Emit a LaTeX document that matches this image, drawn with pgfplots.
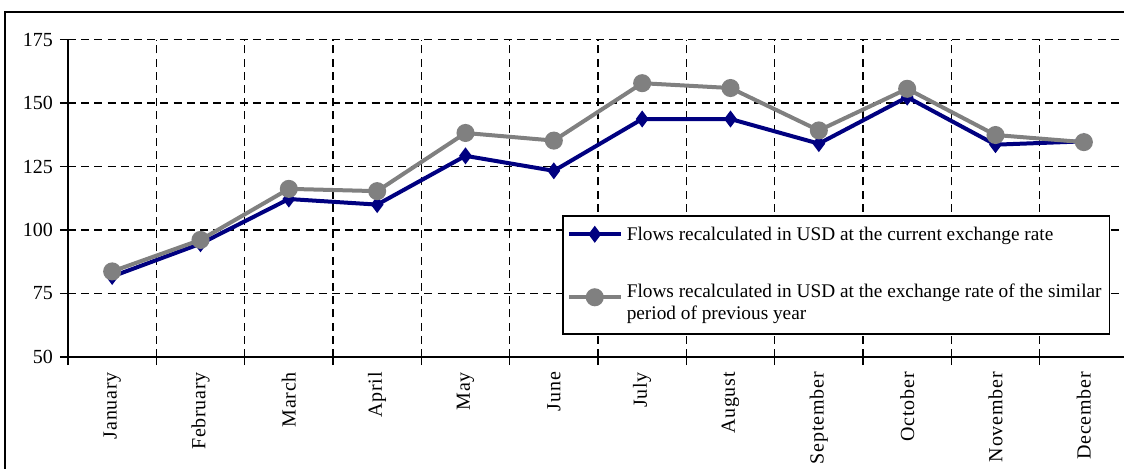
\documentclass[border=0pt]{standalone}
\usepackage{pgfplots}
\pgfplotsset{compat=1.18}
\usepackage{fontspec}
\setmainfont{Liberation Serif}
\newfontfamily\spaced[LetterSpace=4]{Liberation Serif}
\definecolor{navyblue}{RGB}{0,0,128}
\definecolor{midgray}{RGB}{128,128,128}
\pgfplotsset{
  normal legend/.style={legend image code/.code={\draw[mark repeat=2, mark phase=2, ##1] plot coordinates {(0pt,0.3em) (13pt,0.3em) (26pt,0.3em)};}},
  shifted legend/.style={legend image code/.code={\draw[mark repeat=2, mark phase=2, ##1] plot coordinates {(0pt,11.3pt) (13pt,11.3pt) (26pt,11.3pt)};}},
}
\begin{document}
\begin{tikzpicture}
\clip (-34pt,-55.5pt) rectangle (528pt,178.5pt);
\draw[line width=1pt] (-31.5pt,-70pt) -- (-31.5pt,172.5pt) -- (560pt,172.5pt);
\begin{axis}[
  at={(0pt,0pt)}, anchor=south west,
  scale only axis, width=530pt, height=158.75pt,
  xmin=0, xmax=12, ymin=50, ymax=175,
  ytick={50,75,...,175},
  xtick={0,...,12},
  x tick label as interval,
  xticklabels={January,February,March,April,May,June,July,August,September,October,November,December},
  xticklabel style={rotate=90, anchor=east, font=\spaced\fontsize{10}{12}\selectfont},
  yticklabel style={font=\fontsize{10}{12}\selectfont},
  /pgf/number format/assume math mode=true,
  grid=major,
  major grid style={black, line width=0.75pt, dash pattern=on 4pt off 2.6pt},
  axis lines=left,
  axis line style={-, line width=0.9pt},
  tick align=outside,
  major tick length=4pt,
  tick style={black, line width=0.75pt},
  legend style={at={(0.466,0.447)}, anchor=north west, draw=black, line width=0.8pt, fill=white,
    font=\fontsize{9.65}{11}\selectfont, row sep=16.5pt, inner xsep=2pt, inner ysep=3.5pt,
    column sep=0pt,
    cells={anchor=base west, align=left, inner xsep=1pt}},
  normal legend,
]
\addplot[navyblue, line width=2pt, mark=diamond*, mark size=2.6pt, mark options={solid, fill=navyblue}]
  coordinates {(0.5,81.7) (1.5,94.6) (2.5,112.2) (3.5,110.0) (4.5,129.2) (5.5,123.3) (6.5,143.7) (7.5,143.7) (8.5,134.0) (9.5,152.3) (10.5,133.6) (11.5,134.9)};
\addlegendentry{Flows recalculated in USD at the current exchange rate}
\addplot[midgray, line width=2pt, mark=*, mark size=3.5pt, mark options={solid, fill=midgray, draw=midgray}, shifted legend]
  coordinates {(0.5,83.7) (1.5,96.1) (2.5,116.2) (3.5,115.3) (4.5,138.2) (5.5,135.2) (6.5,157.8) (7.5,155.9) (8.5,139.2) (9.5,155.6) (10.5,137.4) (11.5,134.6)};
\addlegendentry{Flows recalculated in USD at the exchange rate of the similar\\period of previous year}
\end{axis}
\end{tikzpicture}
\end{document}
